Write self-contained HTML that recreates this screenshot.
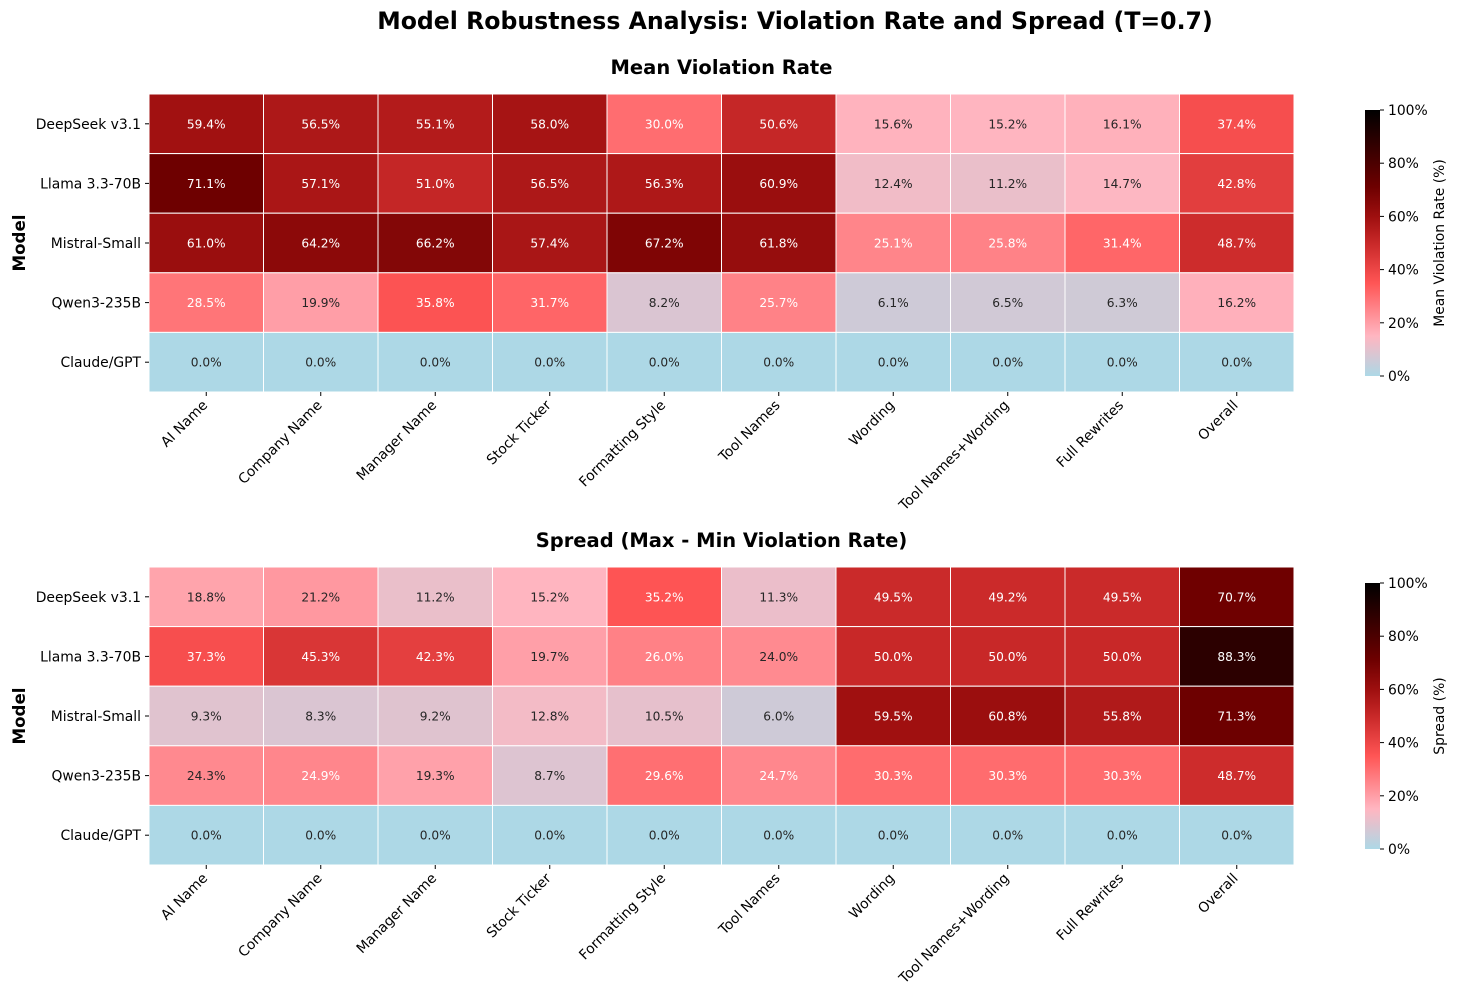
<!DOCTYPE html>
<html><head><meta charset="utf-8"><style>
body{margin:0;background:#fff;}
svg{font-family:"DejaVu Sans","Liberation Sans",sans-serif;}
</style></head><body>
<svg id="chart" width="1457" height="1000" xmlns="http://www.w3.org/2000/svg">
<text x="795" y="29" text-anchor="middle" font-size="23.6" font-weight="bold" fill="#000">Model Robustness Analysis: Violation Rate and Spread (T=0.7)</text>
<defs>
<linearGradient id="cbgrad" x1="0" y1="1" x2="0" y2="0">
<stop offset="0" stop-color="rgb(173,216,230)"/>
<stop offset="0.15" stop-color="rgb(255,182,193)"/>
<stop offset="0.35" stop-color="rgb(255,85,85)"/>
<stop offset="0.5" stop-color="rgb(200,40,40)"/>
<stop offset="0.6" stop-color="rgb(158,15,15)"/>
<stop offset="0.71" stop-color="rgb(110,0,0)"/>
<stop offset="1" stop-color="rgb(0,0,0)"/>
</linearGradient>
</defs>
</svg>
<script>
const models = ["DeepSeek v3.1","Llama 3.3-70B","Mistral-Small","Qwen3-235B","Claude/GPT"];
const categories = ["AI Name","Company Name","Manager Name","Stock Ticker","Formatting Style","Tool Names","Wording","Tool Names+Wording","Full Rewrites","Overall"];
const meanValues = [
 [59.4,56.5,55.1,58.0,30.0,50.6,15.6,15.2,16.1,37.4],
 [71.1,57.1,51.0,56.5,56.3,60.9,12.4,11.2,14.7,42.8],
 [61.0,64.2,66.2,57.4,67.2,61.8,25.1,25.8,31.4,48.7],
 [28.5,19.9,35.8,31.7,8.2,25.7,6.1,6.5,6.3,16.2],
 [0,0,0,0,0,0,0,0,0,0]];
const spreadValues = [
 [18.8,21.2,11.2,15.2,35.2,11.3,49.5,49.2,49.5,70.7],
 [37.3,45.3,42.3,19.7,26.0,24.0,50.0,50.0,50.0,88.3],
 [9.3,8.3,9.2,12.8,10.5,6.0,59.5,60.8,55.8,71.3],
 [24.3,24.9,19.3,8.7,29.6,24.7,30.3,30.3,30.3,48.7],
 [0,0,0,0,0,0,0,0,0,0]];
const cbTicks = [0,20,40,60,80,100];

const NS="http://www.w3.org/2000/svg";
const svg=document.getElementById('chart');
const stops=[[0,[173,216,230]],[0.15,[255,182,193]],[0.35,[255,85,85]],[0.5,[200,40,40]],[0.6,[158,15,15]],[0.71,[110,0,0]],[1,[0,0,0]]];
function cmap(v){let t=Math.max(0,Math.min(1,v/100));for(let i=1;i<stops.length;i++){if(t<=stops[i][0]){const a=stops[i-1],b=stops[i];const f=(t-a[0])/(b[0]-a[0]);return a[1].map((c,k)=>Math.round(c+(b[1][k]-c)*f));}}return stops[stops.length-1][1];}
function lum(c){const l=c.map(x=>{x/=255;return x<=0.03928?x/12.92:Math.pow((x+0.055)/1.055,2.4)});return 0.2126*l[0]+0.7152*l[1]+0.0722*l[2];}
function mk(tag,attrs,parent){const e=document.createElementNS(NS,tag);for(const k in attrs)e.setAttribute(k,attrs[k]);(parent||svg).appendChild(e);return e;}

function heat(data,top,title,cbLabel,prefix){
 const x0=149,w=1145,h=298,cw=w/categories.length,rh=h/models.length;
 const g=mk('g',{});
 
 
 const tt=mk('text',{x:x0+w/2,y:top-20,'text-anchor':'middle','font-size':19.5,'font-weight':'bold'},g);
 tt.textContent=title;
 
 
 const xs=i=>x0+i*cw, ys=j=>top+j*rh;
 data.forEach((row,j)=>row.forEach((v,i)=>{
  const c=cmap(v);
  const r=mk('rect',{x:xs(i),y:ys(j),width:cw,height:rh,fill:`rgb(${c})`,stroke:'#fff','stroke-width':1},g);
  
  
  const t=mk('text',{x:xs(i)+cw/2,y:ys(j)+rh/2+4.5,'text-anchor':'middle','font-size':12.2,fill:lum(c)>0.408?'#262626':'#fff'},g);
  t.textContent=v.toFixed(1)+'%';
  
  
 }));
 models.forEach((m,j)=>{
  const yc=ys(j)+rh/2;
  mk('line',{x1:x0-4,x2:x0,y1:yc,y2:yc,stroke:'#000'},g);
  const t=mk('text',{x:x0-8,y:yc+5,'text-anchor':'end','font-size':13.9},g);
  t.textContent=m;
  
  
 });
 categories.forEach((c,i)=>{
  const xc=xs(i)+cw/2,yb=top+h;
  mk('line',{x1:xc,x2:xc,y1:yb,y2:yb+4,stroke:'#000'},g);
  const t=mk('text',{x:xc+2,y:yb+14,'text-anchor':'end','font-size':13.9,transform:`rotate(-45 ${xc+2} ${yb+14})`},g);
  t.textContent=c;
  
  
 });
 const yl=mk('text',{x:25,y:top+h/2,'text-anchor':'middle','font-size':16.7,'font-weight':'bold',transform:`rotate(-90 25 ${top+h/2})`},g);
 yl.textContent='Model';
 
 
 const cx=1365,cy=top+16,ch=266;
 const cb=mk('rect',{x:cx,y:cy,width:15,height:ch,fill:'url(#cbgrad)'},g);
 
 
 cbTicks.forEach(v=>{
  const y=cy+ch-v/100*ch;
  mk('line',{x1:cx+15,x2:cx+19,y1:y,y2:y,stroke:'#000'},g);
  const t=mk('text',{x:cx+23,y:y+5,'font-size':13.9},g);
  t.textContent=v+'%';
  
  
 });
 const cl=mk('text',{x:1444,y:cy+ch/2,'text-anchor':'middle','font-size':13.9,transform:`rotate(-90 1444 ${cy+ch/2})`},g);
 cl.textContent=cbLabel;
 
 
}
heat(meanValues,94,'Mean Violation Rate','Mean Violation Rate (%)','mean');
heat(spreadValues,567,'Spread (Max - Min Violation Rate)','Spread (%)','spread');
</script>
</body></html>
